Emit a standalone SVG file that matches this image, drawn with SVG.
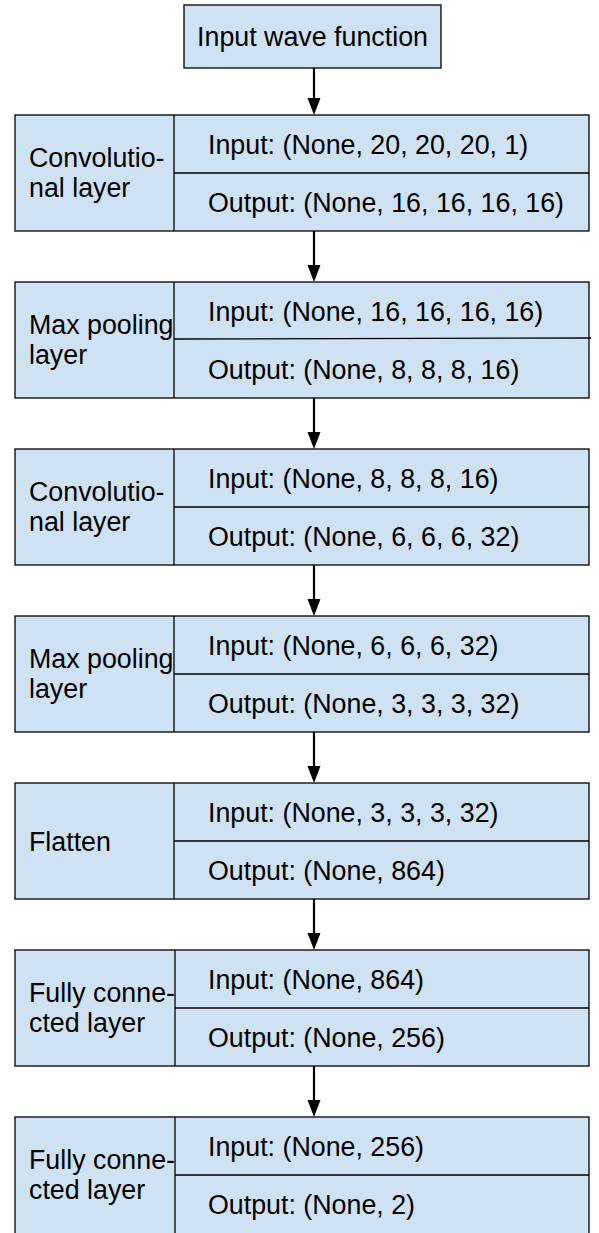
<svg xmlns="http://www.w3.org/2000/svg" width="599" height="1233" viewBox="0 0 599 1233">
<style>
.box{fill:#cfe2f3;stroke:#000;stroke-width:1.3}
.ln{stroke:#000;stroke-width:1.3;fill:none}
.t{font-family:"Liberation Sans",Arial,sans-serif;font-size:26.8px;fill:#000}
.c{stroke:#000;stroke-width:2.2;fill:none}
.h{fill:#000}
</style>
<rect width="599" height="1233" fill="#fff"/>
<g id="input">
<rect class="box" x="184" y="5" width="257" height="63"/>
<text class="t" x="312.5" y="46" text-anchor="middle">Input wave function</text>
</g>
<g id="conv1" transform="translate(0,115)">
<rect class="box" x="15" y="0" width="574" height="116"/>
<line class="ln" x1="174" y1="0" x2="174" y2="116"/>
<line class="ln" x1="174" y1="58" x2="589" y2="58"/>
<text class="t" x="29" y="52">Convolutio-</text>
<text class="t" x="29" y="82">nal layer</text>
<text class="t" x="208" y="39">Input: (None, 20, 20, 20, 1)</text>
<text class="t" x="208" y="97">Output: (None, 16, 16, 16, 16)</text>
</g>
<g id="pool1" transform="translate(0,282)">
<rect class="box" x="15" y="0" width="574" height="116"/>
<line class="ln" x1="174" y1="0" x2="174" y2="116"/>
<line class="ln" x1="174" y1="57" x2="591" y2="56"/>
<text class="t" x="29" y="52">Max pooling</text>
<text class="t" x="29" y="82">layer</text>
<text class="t" x="208" y="39">Input: (None, 16, 16, 16, 16)</text>
<text class="t" x="208" y="97">Output: (None, 8, 8, 8, 16)</text>
</g>
<g id="conv2" transform="translate(0,449)">
<rect class="box" x="15" y="0" width="574" height="116"/>
<line class="ln" x1="174" y1="0" x2="174" y2="116"/>
<line class="ln" x1="174" y1="58" x2="589" y2="58"/>
<text class="t" x="29" y="52">Convolutio-</text>
<text class="t" x="29" y="82">nal layer</text>
<text class="t" x="208" y="39">Input: (None, 8, 8, 8, 16)</text>
<text class="t" x="208" y="97">Output: (None, 6, 6, 6, 32)</text>
</g>
<g id="pool2" transform="translate(0,616)">
<rect class="box" x="15" y="0" width="574" height="116"/>
<line class="ln" x1="174" y1="0" x2="174" y2="116"/>
<line class="ln" x1="174" y1="58" x2="589" y2="58"/>
<text class="t" x="29" y="52">Max pooling</text>
<text class="t" x="29" y="82">layer</text>
<text class="t" x="208" y="39">Input: (None, 6, 6, 6, 32)</text>
<text class="t" x="208" y="97">Output: (None, 3, 3, 3, 32)</text>
</g>
<g id="flatten" transform="translate(0,783)">
<rect class="box" x="15" y="0" width="574" height="116"/>
<line class="ln" x1="174" y1="0" x2="174" y2="116"/>
<line class="ln" x1="174" y1="58" x2="589" y2="58"/>
<text class="t" x="29" y="68">Flatten</text>
<text class="t" x="208" y="39">Input: (None, 3, 3, 3, 32)</text>
<text class="t" x="208" y="97">Output: (None, 864)</text>
</g>
<g id="fc1" transform="translate(0,950)">
<rect class="box" x="15" y="0" width="574" height="116"/>
<line class="ln" x1="175" y1="0" x2="175" y2="116"/>
<line class="ln" x1="175" y1="58" x2="589" y2="58"/>
<text class="t" x="29" y="52">Fully conne-</text>
<text class="t" x="29" y="82">cted layer</text>
<text class="t" x="208" y="39">Input: (None, 864)</text>
<text class="t" x="208" y="97">Output: (None, 256)</text>
</g>
<g id="fc2" transform="translate(0,1117)">
<rect class="box" x="15" y="0" width="574" height="120"/>
<line class="ln" x1="175" y1="0" x2="175" y2="120"/>
<line class="ln" x1="175" y1="58" x2="589" y2="58"/>
<text class="t" x="29" y="52">Fully conne-</text>
<text class="t" x="29" y="82">cted layer</text>
<text class="t" x="208" y="39">Input: (None, 256)</text>
<text class="t" x="208" y="97">Output: (None, 2)</text>
</g>
<g id="connectors">
<line class="c" x1="314" y1="68" x2="314" y2="100"/><polygon class="h" points="307.5,98 320.5,98 314,115"/>
<line class="c" x1="314" y1="231" x2="314" y2="267"/><polygon class="h" points="307.5,265 320.5,265 314,282"/>
<line class="c" x1="314" y1="398" x2="314" y2="434"/><polygon class="h" points="307.5,432 320.5,432 314,449"/>
<line class="c" x1="314" y1="565" x2="314" y2="601"/><polygon class="h" points="307.5,599 320.5,599 314,616"/>
<line class="c" x1="314" y1="732" x2="314" y2="768"/><polygon class="h" points="307.5,766 320.5,766 314,783"/>
<line class="c" x1="314" y1="899" x2="314" y2="935"/><polygon class="h" points="307.5,933 320.5,933 314,950"/>
<line class="c" x1="314" y1="1066" x2="314" y2="1102"/><polygon class="h" points="307.5,1100 320.5,1100 314,1117"/>
</g>
</svg>
